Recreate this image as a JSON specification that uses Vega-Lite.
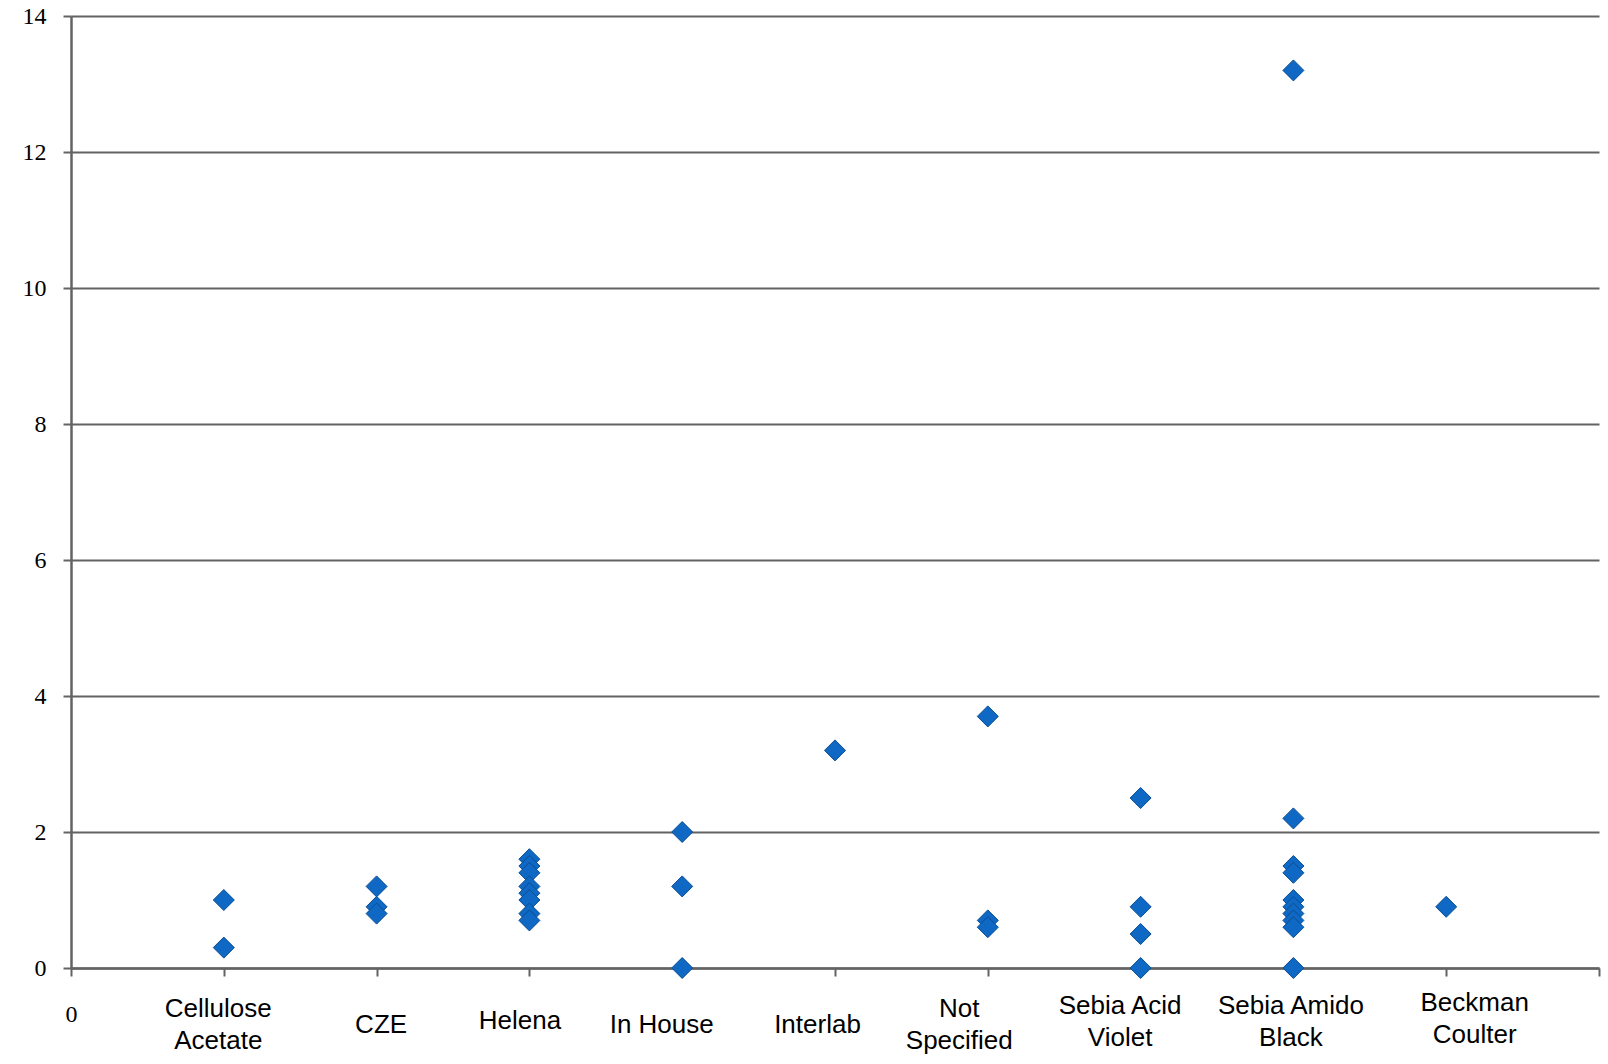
{
  "$schema": "https://vega.github.io/schema/vega-lite/v6.json",
  "autosize": "none",
  "width": 1528,
  "height": 952,
  "padding": {"left": 71, "top": 16, "right": 9, "bottom": 96},
  "background": "white",
  "config": {"view": {"stroke": null}},
  "data": {
    "values": [
      {"pos": 1, "method": "Cellulose Acetate", "value": 1.0},
      {"pos": 1, "method": "Cellulose Acetate", "value": 0.3},
      {"pos": 2, "method": "CZE", "value": 1.2},
      {"pos": 2, "method": "CZE", "value": 0.9},
      {"pos": 2, "method": "CZE", "value": 0.8},
      {"pos": 3, "method": "Helena", "value": 1.6},
      {"pos": 3, "method": "Helena", "value": 1.5},
      {"pos": 3, "method": "Helena", "value": 1.4},
      {"pos": 3, "method": "Helena", "value": 1.2},
      {"pos": 3, "method": "Helena", "value": 1.1},
      {"pos": 3, "method": "Helena", "value": 1.0},
      {"pos": 3, "method": "Helena", "value": 0.8},
      {"pos": 3, "method": "Helena", "value": 0.7},
      {"pos": 4, "method": "In House", "value": 2.0},
      {"pos": 4, "method": "In House", "value": 1.2},
      {"pos": 4, "method": "In House", "value": 0.0},
      {"pos": 5, "method": "Interlab", "value": 3.2},
      {"pos": 6, "method": "Not Specified", "value": 3.7},
      {"pos": 6, "method": "Not Specified", "value": 0.7},
      {"pos": 6, "method": "Not Specified", "value": 0.6},
      {"pos": 7, "method": "Sebia Acid Violet", "value": 2.5},
      {"pos": 7, "method": "Sebia Acid Violet", "value": 0.9},
      {"pos": 7, "method": "Sebia Acid Violet", "value": 0.5},
      {"pos": 7, "method": "Sebia Acid Violet", "value": 0.0},
      {"pos": 8, "method": "Sebia Amido Black", "value": 13.2},
      {"pos": 8, "method": "Sebia Amido Black", "value": 2.2},
      {"pos": 8, "method": "Sebia Amido Black", "value": 1.5},
      {"pos": 8, "method": "Sebia Amido Black", "value": 1.4},
      {"pos": 8, "method": "Sebia Amido Black", "value": 1.0},
      {"pos": 8, "method": "Sebia Amido Black", "value": 0.9},
      {"pos": 8, "method": "Sebia Amido Black", "value": 0.8},
      {"pos": 8, "method": "Sebia Amido Black", "value": 0.7},
      {"pos": 8, "method": "Sebia Amido Black", "value": 0.6},
      {"pos": 8, "method": "Sebia Amido Black", "value": 0.0},
      {"pos": 9, "method": "Beckman Coulter", "value": 0.9}
    ]
  },
  "mark": {"type": "point", "shape": "diamond", "filled": true, "size": 441, "fill": "#0f69c4", "stroke": "#0a4d93", "strokeWidth": 1, "opacity": 1, "clip": false},
  "encoding": {
    "x": {
      "field": "pos",
      "type": "quantitative",
      "scale": {"domain": [0, 10], "nice": false, "zero": false},
      "axis": {
        "title": null,
        "values": [0, 1, 2, 3, 4, 5, 6, 7, 8, 9, 10],
        "grid": false,
        "domainColor": "#636363",
        "domainWidth": 2.5,
        "tickColor": "#636363",
        "tickWidth": 2,
        "tickSize": 8,
        "labelFlush": false,
        "labelOverlap": false,
        "labelBaseline": "middle",
        "labelAlign": "center",
        "labelColor": "black",
        "labelLineHeight": 32,
        "labelFont": {"condition": {"test": "datum.value == 0", "value": "Liberation Serif"}, "value": "Liberation Sans"},
        "labelFontSize": {"condition": {"test": "datum.value == 0", "value": 24}, "value": 26},
        "labelPadding": {"condition": [
          {"test": "datum.value == 0", "value": 38},
          {"test": "datum.value == 1", "value": 32},
          {"test": "datum.value == 3", "value": 44},
          {"test": "datum.value == 6", "value": 32},
          {"test": "datum.value == 7", "value": 29},
          {"test": "datum.value == 8", "value": 29},
          {"test": "datum.value == 9", "value": 26}
        ], "value": 48},
        "labelOffset": {"condition": [
          {"test": "datum.value == 1", "value": -6},
          {"test": "datum.value == 2", "value": 4},
          {"test": "datum.value == 3", "value": -10},
          {"test": "datum.value == 4", "value": -21},
          {"test": "datum.value == 5", "value": -18},
          {"test": "datum.value == 6", "value": -29},
          {"test": "datum.value == 7", "value": -21},
          {"test": "datum.value == 8", "value": -3},
          {"test": "datum.value == 9", "value": 28}
        ], "value": 0},
        "labelExpr": "datum.value == 0 ? '0' : datum.value == 1 ? ['Cellulose', 'Acetate'] : datum.value == 2 ? 'CZE' : datum.value == 3 ? 'Helena' : datum.value == 4 ? 'In House' : datum.value == 5 ? 'Interlab' : datum.value == 6 ? ['Not', 'Specified'] : datum.value == 7 ? ['Sebia Acid', 'Violet'] : datum.value == 8 ? ['Sebia Amido', 'Black'] : datum.value == 9 ? ['Beckman', 'Coulter'] : ''"
      }
    },
    "y": {
      "field": "value",
      "type": "quantitative",
      "scale": {"domain": [0, 14], "nice": false},
      "axis": {
        "title": null,
        "values": [0, 2, 4, 6, 8, 10, 12, 14],
        "grid": true,
        "gridColor": "#636363",
        "gridWidth": 2,
        "domainColor": "#636363",
        "domainWidth": 2.5,
        "tickColor": "#636363",
        "tickWidth": 2,
        "tickSize": 8,
        "labelFlush": false,
        "labelOverlap": false,
        "labelFont": "Liberation Serif",
        "labelFontSize": 24,
        "labelColor": "black",
        "labelPadding": 17,
        "labelBaseline": "middle"
      }
    }
  }
}
